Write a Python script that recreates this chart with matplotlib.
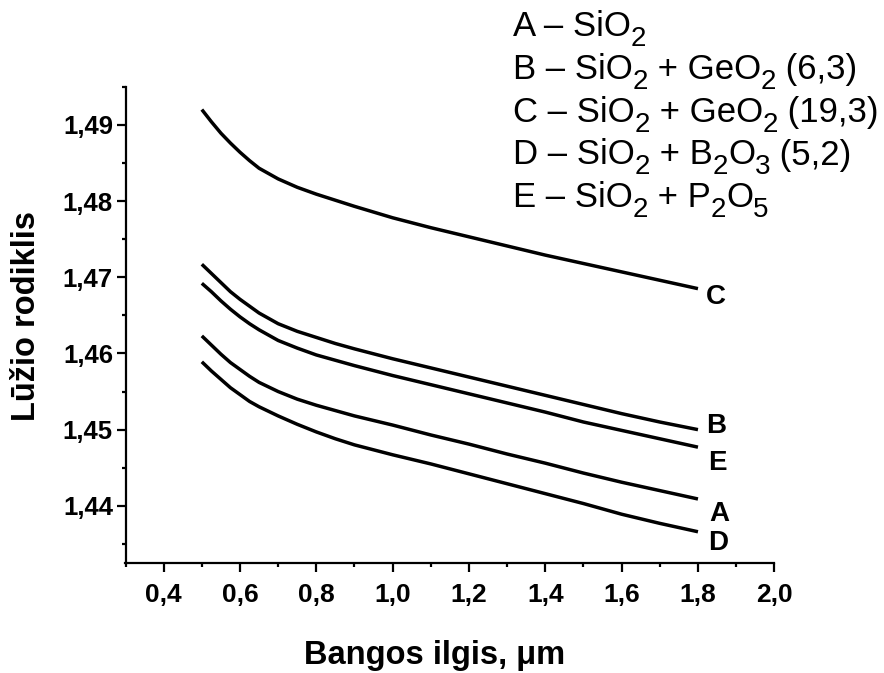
import re
import matplotlib
matplotlib.use("Agg")
from matplotlib import pyplot as plt
from matplotlib.ticker import MultipleLocator, FuncFormatter

plt.rcParams['font.family'] = ['Liberation Sans', 'DejaVu Sans']

# Wavelength, um
wavelength = [0.5, 0.525, 0.55, 0.575, 0.6, 0.625, 0.65, 0.7, 0.75, 0.8, 0.85,
              0.9, 1.0, 1.1, 1.2, 1.3, 1.4, 1.5, 1.6, 1.7, 1.8]

# Refractive index
n_A = [1.4623, 1.4611, 1.4599, 1.4588, 1.4579, 1.4570, 1.4562, 1.4550, 1.4540,
       1.4532, 1.4525, 1.4518, 1.4506, 1.4493, 1.4481, 1.4468, 1.4456, 1.4443,
       1.4431, 1.4420, 1.4409]
n_B = [1.4717, 1.4705, 1.4693, 1.4681, 1.4671, 1.4662, 1.4653, 1.4639, 1.4629,
       1.4621, 1.4613, 1.4606, 1.4593, 1.4581, 1.4569, 1.4557, 1.4545, 1.4533,
       1.4521, 1.4510, 1.4500]
n_C = [1.4920, 1.4904, 1.4889, 1.4876, 1.4864, 1.4853, 1.4843, 1.4829, 1.4818,
       1.4809, 1.4801, 1.4793, 1.4778, 1.4765, 1.4753, 1.4741, 1.4729, 1.4718,
       1.4707, 1.4696, 1.4685]
n_D = [1.4589, 1.4577, 1.4566, 1.4555, 1.4546, 1.4537, 1.4530, 1.4518, 1.4507,
       1.4497, 1.4488, 1.4480, 1.4467, 1.4455, 1.4442, 1.4429, 1.4416, 1.4403,
       1.4389, 1.4377, 1.4366]
n_E = [1.4692, 1.4681, 1.4669, 1.4658, 1.4648, 1.4639, 1.4631, 1.4617, 1.4607,
       1.4598, 1.4591, 1.4584, 1.4571, 1.4559, 1.4547, 1.4535, 1.4523, 1.4510,
       1.4499, 1.4488, 1.4477]

curve_names = ['A', 'B', 'C', 'D', 'E']
# "_2" marks a subscript digit
legend_lines = [
    'A – SiO_2',
    'B – SiO_2 + GeO_2 (6,3)',
    'C – SiO_2 + GeO_2 (19,3)',
    'D – SiO_2 + B_2O_3 (5,2)',
    'E – SiO_2 + P_2O_5',
]

W, H = 884, 673
fig = plt.figure(figsize=(W / 100, H / 100), dpi=100)
ax = fig.add_axes([125.5 / W, 1 - 563 / H, (774.3 - 125.5) / W, (563 - 86.7) / H])

curves = {'A': n_A, 'B': n_B, 'C': n_C, 'D': n_D, 'E': n_E}
# label offsets from the line end, in pixels
label_offset = {'C': (18, -8), 'B': (18, 4), 'E': (19, -16), 'A': (21, -15), 'D': (20, -11)}

for name in curve_names:
    ax.plot(wavelength, curves[name], color='black', lw=2.5, solid_capstyle='butt')
    ax.annotate(name, xy=(wavelength[-1], curves[name][-1]),
                xytext=label_offset[name], textcoords='offset pixels',
                ha='center', va='center', fontsize=20, fontweight='bold')

ax.set_xlim(0.3, 2.0)
ax.set_ylim(1.4325, 1.495)

ax.spines['top'].set_visible(False)
ax.spines['right'].set_visible(False)
for s in ['left', 'bottom']:
    ax.spines[s].set_linewidth(1.6)

ax.xaxis.set_major_locator(MultipleLocator(0.2))
ax.xaxis.set_minor_locator(MultipleLocator(0.1))
ax.yaxis.set_major_locator(MultipleLocator(0.01))
ax.yaxis.set_minor_locator(MultipleLocator(0.005))
ax.xaxis.set_major_formatter(FuncFormatter(lambda v, p: f"{v:.1f}".replace('.', ',')))
ax.yaxis.set_major_formatter(FuncFormatter(lambda v, p: f"{v:.2f}".replace('.', ',')))

ax.tick_params(which='major', length=6.5, width=1.6, direction='out')
ax.tick_params(which='minor', length=3, width=1.6, direction='out')
ax.tick_params(axis='x', labelsize=19, pad=8)
ax.tick_params(axis='y', labelsize=18.5, pad=2.5)
for lab in ax.get_xticklabels() + ax.get_yticklabels():
    lab.set_fontweight('bold')

fig.text(435 / W, 1 - 664 / H, 'Bangos ilgis, μm', ha='center', va='baseline',
         fontsize=23.5, fontweight='bold')
fig.text(27 / W, 1 - 316 / H, 'Lūžio rodiklis', ha='center', va='center',
         rotation=90, fontsize=23.5, fontweight='bold')

# Legend block, built piece by piece so the subscripts sit low like the original
renderer = fig.canvas.get_renderer()
baselines = [35.5, 79, 122, 164.5, 207]
for line, yb in zip(legend_lines, baselines):
    x = 512.7
    for piece in re.split(r'(_\d)', line):
        if not piece:
            continue
        if piece.startswith('_'):
            t = fig.text(x / W, 1 - (yb + 10) / H, piece[1:], ha='left',
                         va='baseline', fontsize=20)
        else:
            t = fig.text(x / W, 1 - yb / H, piece, ha='left',
                         va='baseline', fontsize=25)
        x += t.get_window_extent(renderer).width

fig.savefig('out.png', dpi=100)
